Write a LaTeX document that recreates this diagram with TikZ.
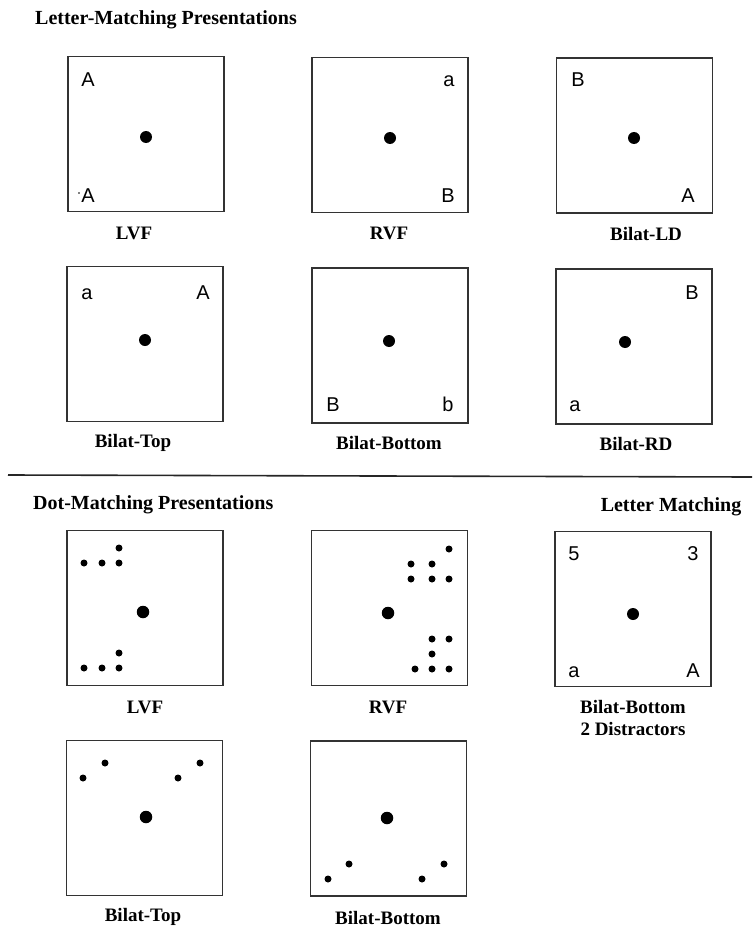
\documentclass[tikz,border=0pt]{standalone}
\usepackage{fontspec}
\setmainfont{Liberation Serif}
\newfontfamily\lettfont{Liberation Sans}
\begin{document}
\begin{tikzpicture}[x=1pt,y=-1pt,
  panel/.style={draw=black!80,line width=1.2pt,minimum width=156pt,minimum height=155pt,inner sep=0pt},
  bigdot/.style={circle,fill=black,inner sep=0pt,minimum size=12pt},
  smalldot/.style={circle,fill=black,inner sep=0pt,minimum size=7pt},
  lett/.style={font=\lettfont\fontsize{20}{20}\selectfont,inner sep=0pt,anchor=base},
  lbl/.style={font=\bfseries\fontsize{19}{22}\selectfont,inner sep=0pt,align=center},
  ttl/.style={font=\bfseries\fontsize{20}{22}\selectfont,inner sep=0pt,anchor=west}]
\useasboundingbox (0,0) rectangle (752,931);
% titles
\node[ttl] (t1) at (35,20) {Letter-Matching Presentations};
\node[ttl] (t2) at (33,505) {Dot-Matching Presentations};
\node[lbl,font=\bfseries\fontsize{20}{22}\selectfont] (t3) at (671,507) {Letter Matching};
% divider
\coordinate (dl) at (8,475);
\coordinate (dr) at (752,477);
\draw[line width=1.6pt,black!85] (dl) -- (dr);
% ---------- row 1
\node[panel] (b11) at (146,134) {};
\node[bigdot] (d11) at (146,137) {};
\node[lett] (l11a) at (88,87) {A};
\node[lett] (l11b) at (88,202) {A};
\fill (79,193) circle (0.8);
\node[lbl] (c11) at (134,233) {LVF};
\node[panel] (b12) at (390,135) {};
\node[bigdot] (d12) at (390,138) {};
\node[lett] (l12a) at (449,87) {a};
\node[lett] (l12b) at (448,202) {B};
\node[lbl] (c12) at (389,233) {RVF};
\node[panel] (b13) at (634.5,135.5) {};
\node[bigdot] (d13) at (634,138) {};
\node[lett] (l13a) at (578,87) {B};
\node[lett] (l13b) at (688,202) {A};
\node[lbl] (c13) at (646,234) {Bilat-LD};
% ---------- row 2
\node[panel] (b21) at (145,344) {};
\node[bigdot] (d21) at (145,340) {};
\node[lett] (l21a) at (87,299) {a};
\node[lett] (l21b) at (203,299) {A};
\node[lbl] (c21) at (133,443) {Bilat-Top};
\node[panel] (b22) at (390,345.5) {};
\node[bigdot] (d22) at (389,341) {};
\node[lett] (l22a) at (333,411) {B};
\node[lett] (l22b) at (448,411) {b};
\node[lbl] (c22) at (389,443) {Bilat-Bottom};
\node[panel] (b23) at (634,346.5) {};
\node[bigdot] (d23) at (625,342) {};
\node[lett] (l23a) at (692,299) {B};
\node[lett] (l23b) at (575,411) {a};
\node[lbl] (c23) at (636,444) {Bilat-RD};
% ---------- row 3
\node[panel] (b31) at (145,608) {};
\node[bigdot,minimum size=12.5pt] (d31) at (143,612) {};
\foreach \x/\y [count=\i] in {84/563,102/563,119/563,119/548,84/668,102/668,119/668,119/653}
  \node[smalldot] (s31\i) at (\x,\y) {};
\node[lbl] (c31) at (145,707) {LVF};
\node[panel] (b32) at (389.5,608) {};
\node[bigdot,minimum size=12.5pt] (d32) at (388,613) {};
\foreach \x/\y [count=\i] in {449/549,411/564,432/564,411/579,432/579,449/579,432/639,449/639,432/654,415/669,432/669,449/669}
  \node[smalldot] (s32\i) at (\x,\y) {};
\node[lbl] (c32) at (388,707) {RVF};
\node[panel] (b33) at (633,609) {};
\node[bigdot] (d33) at (633,614) {};
\node[lett] (l33a) at (574,560) {5};
\node[lett] (l33b) at (693,560) {3};
\node[lett] (l33c) at (574,677) {a};
\node[lett] (l33d) at (693,677) {A};
\node[lbl] (c33) at (633,707) {Bilat-Bottom};
\node[lbl] (c33b) at (633,729) {2 Distractors};
% ---------- row 4
\node[panel] (b41) at (144.5,818) {};
\node[bigdot,minimum size=12.5pt] (d41) at (146,817) {};
\foreach \x/\y [count=\i] in {83/778,105/763,178/778,200/763}
  \node[smalldot] (s41\i) at (\x,\y) {};
\node[lbl] (c41) at (143,917) {Bilat-Top};
\node[panel] (b42) at (388.5,818.5) {};
\node[bigdot,minimum size=12.5pt] (d42) at (387,818) {};
\foreach \x/\y [count=\i] in {328/879,349/864,422/879,444/864}
  \node[smalldot] (s42\i) at (\x,\y) {};
\node[lbl] (c42) at (388,918) {Bilat-Bottom};
\end{tikzpicture}
\end{document}
